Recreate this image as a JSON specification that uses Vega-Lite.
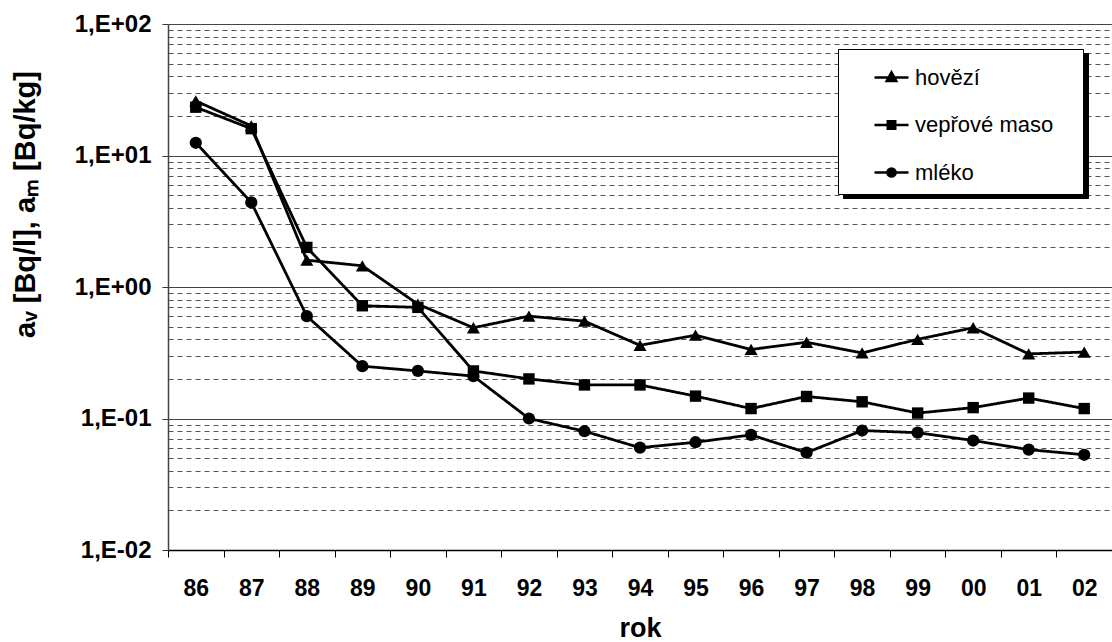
{
  "$schema": "https://vega.github.io/schema/vega-lite/v6.json",
  "width": 944,
  "height": 526,
  "autosize": {"type": "none"},
  "padding": {"left": 168, "top": 24, "right": 0, "bottom": 92},
  "background": "white",
  "config": {
    "view": {"stroke": null},
    "font": "Liberation Sans"
  },
  "data": {
    "values": [
      {"rok": 1986, "serie": "hovězí", "a": 26.0},
      {"rok": 1987, "serie": "hovězí", "a": 16.8},
      {"rok": 1988, "serie": "hovězí", "a": 1.6},
      {"rok": 1989, "serie": "hovězí", "a": 1.45},
      {"rok": 1990, "serie": "hovězí", "a": 0.74},
      {"rok": 1991, "serie": "hovězí", "a": 0.49},
      {"rok": 1992, "serie": "hovězí", "a": 0.6},
      {"rok": 1993, "serie": "hovězí", "a": 0.55},
      {"rok": 1994, "serie": "hovězí", "a": 0.36},
      {"rok": 1995, "serie": "hovězí", "a": 0.43},
      {"rok": 1996, "serie": "hovězí", "a": 0.335},
      {"rok": 1997, "serie": "hovězí", "a": 0.38},
      {"rok": 1998, "serie": "hovězí", "a": 0.315},
      {"rok": 1999, "serie": "hovězí", "a": 0.4},
      {"rok": 2000, "serie": "hovězí", "a": 0.49},
      {"rok": 2001, "serie": "hovězí", "a": 0.31},
      {"rok": 2002, "serie": "hovězí", "a": 0.32},
      {"rok": 1986, "serie": "vepřové maso", "a": 23.3},
      {"rok": 1987, "serie": "vepřové maso", "a": 16.0},
      {"rok": 1988, "serie": "vepřové maso", "a": 2.0},
      {"rok": 1989, "serie": "vepřové maso", "a": 0.72},
      {"rok": 1990, "serie": "vepřové maso", "a": 0.7},
      {"rok": 1991, "serie": "vepřové maso", "a": 0.23},
      {"rok": 1992, "serie": "vepřové maso", "a": 0.2},
      {"rok": 1993, "serie": "vepřové maso", "a": 0.18},
      {"rok": 1994, "serie": "vepřové maso", "a": 0.18},
      {"rok": 1995, "serie": "vepřové maso", "a": 0.148},
      {"rok": 1996, "serie": "vepřové maso", "a": 0.119},
      {"rok": 1997, "serie": "vepřové maso", "a": 0.147},
      {"rok": 1998, "serie": "vepřové maso", "a": 0.134},
      {"rok": 1999, "serie": "vepřové maso", "a": 0.11},
      {"rok": 2000, "serie": "vepřové maso", "a": 0.121},
      {"rok": 2001, "serie": "vepřové maso", "a": 0.143},
      {"rok": 2002, "serie": "vepřové maso", "a": 0.119},
      {"rok": 1986, "serie": "mléko", "a": 12.5},
      {"rok": 1987, "serie": "mléko", "a": 4.4},
      {"rok": 1988, "serie": "mléko", "a": 0.6},
      {"rok": 1989, "serie": "mléko", "a": 0.25},
      {"rok": 1990, "serie": "mléko", "a": 0.23},
      {"rok": 1991, "serie": "mléko", "a": 0.21},
      {"rok": 1992, "serie": "mléko", "a": 0.1},
      {"rok": 1993, "serie": "mléko", "a": 0.08},
      {"rok": 1994, "serie": "mléko", "a": 0.06},
      {"rok": 1995, "serie": "mléko", "a": 0.066},
      {"rok": 1996, "serie": "mléko", "a": 0.075},
      {"rok": 1997, "serie": "mléko", "a": 0.055},
      {"rok": 1998, "serie": "mléko", "a": 0.081},
      {"rok": 1999, "serie": "mléko", "a": 0.078},
      {"rok": 2000, "serie": "mléko", "a": 0.068},
      {"rok": 2001, "serie": "mléko", "a": 0.058},
      {"rok": 2002, "serie": "mléko", "a": 0.053}
    ]
  },
  "encoding": {
    "x": {
      "field": "rok",
      "type": "ordinal",
      "scale": {"type": "band", "paddingInner": 0, "paddingOuter": 0},
      "axis": {
        "title": "rok",
        "labelExpr": "datum.value ? substring(toString(datum.value), 2) : ''",
        "labelAngle": 0,
        "tickBand": "extent",
        "tickSize": 7,
        "tickColor": "black",
        "domainColor": "black",
        "domainWidth": 1.5,
        "grid": false,
        "labelFont": "Liberation Sans",
        "labelFontSize": 23,
        "labelFontWeight": "bold",
        "labelColor": "black",
        "labelPadding": 20,
        "titleFont": "Liberation Sans",
        "titleFontSize": 27,
        "titleFontWeight": "bold",
        "titleColor": "black",
        "titleBaseline": "alphabetic",
        "titleY": 86
      }
    },
    "y": {
      "field": "a",
      "type": "quantitative",
      "scale": {"type": "log", "domain": [0.01, 100], "nice": false},
      "axis": {
        "title": "aᵥ [Bq/l],  aₘ [Bq/kg]",
        "values": [0.01, 0.02, 0.03, 0.04, 0.05, 0.06, 0.07, 0.08, 0.09,
                   0.1, 0.2, 0.3, 0.4, 0.5, 0.6, 0.7, 0.8, 0.9,
                   1, 2, 3, 4, 5, 6, 7, 8, 9,
                   10, 20, 30, 40, 50, 60, 70, 80, 90, 100],
        "labelExpr": "abs(log(datum.value)/LN10 - round(log(datum.value)/LN10)) < 0.001 ? '1,E' + (datum.value >= 1 ? '+' : '-') + '0' + abs(round(log(datum.value)/LN10)) : ''",
        "labelOverlap": false,
        "labelFont": "Liberation Sans",
        "labelFontSize": 24,
        "labelFontWeight": "bold",
        "labelColor": "black",
        "labelPadding": 11,
        "tickSize": 6,
        "tickColor": "#333",
        "tickOpacity": {
          "condition": {"test": "abs(log(datum.value)/LN10 - round(log(datum.value)/LN10)) < 0.001", "value": 1},
          "value": 0
        },
        "grid": true,
        "gridWidth": 1,
        "gridColor": {
          "condition": {"test": "abs(log(datum.value)/LN10 - round(log(datum.value)/LN10)) < 0.001", "value": "#444"},
          "value": "#555"
        },
        "gridDash": {
          "condition": {"test": "abs(log(datum.value)/LN10 - round(log(datum.value)/LN10)) < 0.001", "value": []},
          "value": [5, 4]
        },
        "domainColor": "#444",
        "domainWidth": 1.5,
        "titleFont": "Liberation Sans",
        "titleFontSize": 29,
        "titleFontWeight": "bold",
        "titleColor": "black",
        "titleAngle": -90,
        "titleAlign": "center",
        "titleBaseline": "alphabetic",
        "titleX": -134,
        "titleY": 180
      }
    }
  },
  "layer": [
    {
      "mark": {"type": "line", "color": "black", "strokeWidth": 2.8},
      "encoding": {
        "detail": {"field": "serie", "type": "nominal"},
        "stroke": {
          "field": "serie",
          "type": "nominal",
          "scale": {
            "domain": ["mléko", "vepřové maso", "hovězí"],
            "range": ["black", "black", "black"]
          },
          "legend": {
            "orient": "none",
            "legendX": 675,
            "legendY": 29,
            "title": null,
            "fillColor": "black",
            "strokeColor": "black",
            "padding": 11.5,
            "rowPadding": 17.5,
            "symbolSize": 1156,
            "symbolOffset": 181,
            "labelOffset": 5,
            "labelFont": "Liberation Sans",
            "labelFontSize": 22,
            "labelColor": "black",
            "labelExpr": "''",
            "zindex": 1
          }
        },
        "strokeDash": {
          "field": "serie",
          "type": "nominal",
          "scale": {
            "domain": ["vepřové maso", "mléko", "hovězí"],
            "range": [[1, 0], [1, 0], [1, 0]]
          },
          "legend": {
            "orient": "none",
            "legendX": 670,
            "legendY": 25,
            "title": null,
            "fillColor": "white",
            "strokeColor": "black",
            "padding": 11.5,
            "rowPadding": 17.5,
            "symbolSize": 1156,
            "symbolOffset": 181,
            "labelOffset": 5,
            "labelFont": "Liberation Sans",
            "labelFontSize": 22,
            "labelColor": "white",
            "labelExpr": "''",
            "zindex": 2,
            "encode": {
              "symbols": {
                "update": {
                  "stroke": {"value": "white"},
                  "fill": {"value": "white"}
                }
              }
            }
          }
        },
        "opacity": {
          "field": "serie",
          "type": "nominal",
          "scale": {
            "domain": ["hovězí", "vepřové maso", "mléko"],
            "range": [1, 1, 1]
          },
          "legend": {
            "orient": "none",
            "legendX": 670,
            "legendY": 25,
            "title": null,
            "fillColor": null,
            "strokeColor": null,
            "padding": 10,
            "rowPadding": 17.5,
            "symbolSize": 1156,
            "symbolOffset": 25,
            "labelOffset": 5,
            "labelFont": "Liberation Sans",
            "labelFontSize": 22,
            "labelColor": "black",
            "labelLimit": 300,
            "zindex": 3,
            "encode": {
              "symbols": {
                "update": {
                  "shape": {"signal": "datum.value === 'hovězí' ? 'M-1,0H1M0,-0.3L0.28,0.2L-0.28,0.2Z' : datum.value === 'vepřové maso' ? 'M-1,0H1M-0.22,-0.22H0.22V0.22H-0.22Z' : 'M-1,0H1M0.24,0A0.24,0.24,0,1,1,-0.24,0A0.24,0.24,0,1,1,0.24,0Z'"},
                  "fill": {"value": "black"},
                  "stroke": {"value": "black"},
                  "strokeWidth": {"value": 2.5}
                }
              }
            }
          }
        }
      }
    },
    {
      "mark": {"type": "point", "filled": true, "color": "black", "opacity": 1, "strokeWidth": 0},
      "encoding": {
        "shape": {
          "field": "serie",
          "type": "nominal",
          "scale": {"range": ["triangle-up", "circle", "square"]},
          "legend": null
        },
        "size": {
          "field": "serie",
          "type": "nominal",
          "scale": {"range": [170, 130, 125]},
          "legend": null
        }
      }
    }
  ]
}
